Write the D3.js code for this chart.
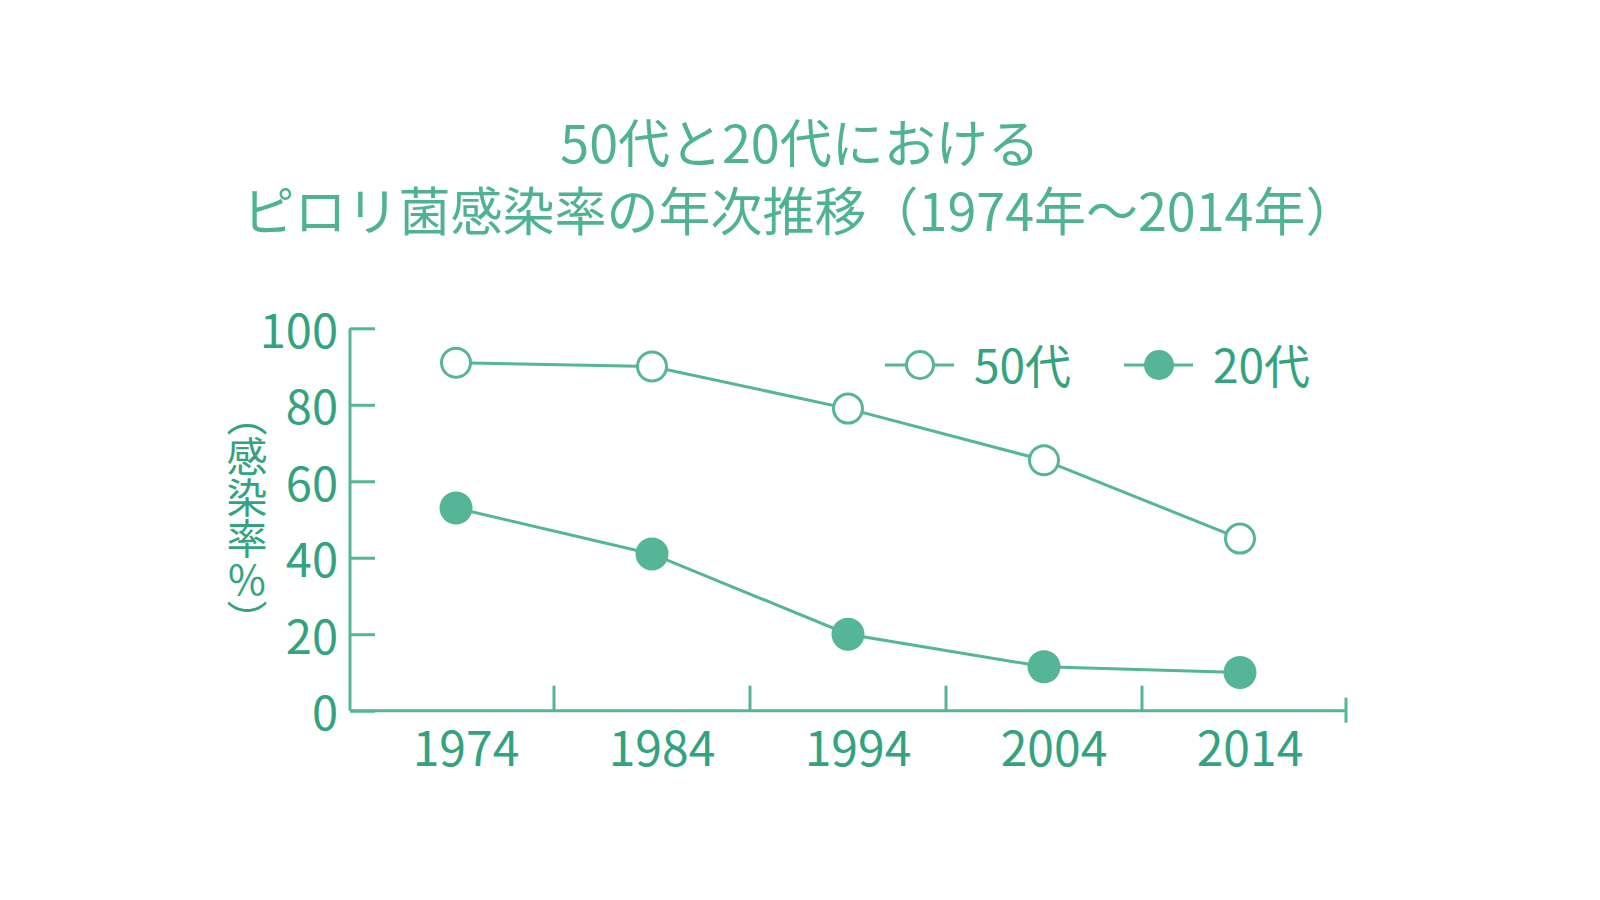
<!DOCTYPE html>
<html lang="ja">
<head>
<meta charset="utf-8">
<script src="https://cdn.jsdelivr.net/npm/d3@7"></script>
<style>
  html, body { margin: 0; padding: 0; background: #fff; }
  text { font-family: "Noto Sans CJK JP", "Noto Sans", sans-serif; }
</style>
</head>
<body>
<div id="chart"></div>
<script>
const years = ["1974", "1984", "1994", "2004", "2014"]
const age50 = [91, 90, 79, 65.5, 45]
const age20 = [53, 41, 20, 11.5, 10]
const yTicks = [0, 20, 40, 60, 80, 100]
const titleLines = ["50代と20代における", "ピロリ菌感染率の年次推移（1974年〜2014年）"]
const yLabel = "（感染率%）"
const seriesNames = ["50代", "20代"]

const lineColor = "#55b597"
const textColor = "#33a37f"

const width = 1600
const height = 900

const svg = d3.select("#chart").append("svg")
    .attr("width", width)
    .attr("height", height)

const x = d3.scaleBand()
    .domain(years)
    .range([358, 1338])
const y = d3.scaleLinear()
    .domain([0, 100])
    .range([710.7, 328.3])

// title
svg.append("g")
    .selectAll("text")
    .data(titleLines)
    .enter()
    .append("text")
    .attr("x", 800)
    .attr("y", (d, i) => 163 + i * 68)
    .attr("text-anchor", "middle")
    .attr("font-size", 52)
    .attr("fill", "#4fb393")
    .text(d => d)

// y axis
const yAxis = d3.axisLeft(y)
    .tickValues(yTicks)
    .tickSize(-25)
    .tickPadding(38)
    .tickFormat(d3.format("d"))
const gy = svg.append("g")
    .attr("transform", "translate(350,0)")
    .call(yAxis)
gy.select(".domain").remove()
gy.append("line")
    .attr("x1", 0).attr("x2", 0)
    .attr("y1", y(100)).attr("y2", y(0))
    .attr("stroke", lineColor).attr("stroke-width", 3)
gy.selectAll(".tick line")
    .attr("stroke", lineColor).attr("stroke-width", 3)
gy.selectAll(".tick text")
    .attr("fill", textColor)
    .attr("font-size", 47)
    .attr("dy", "0.4em")
    .attr("x", -12)

// x axis: ticks sit on band boundaries
const boundaries = years.slice(1).map(d => x(d))
const gx = svg.append("g")
gx.append("line")
    .attr("x1", 350).attr("x2", 1347)
    .attr("y1", y(0)).attr("y2", y(0))
    .attr("stroke", lineColor).attr("stroke-width", 3)
gx.selectAll(".xtick")
    .data(boundaries)
    .enter()
    .append("line")
    .attr("x1", d => d).attr("x2", d => d)
    .attr("y1", y(0)).attr("y2", y(0) - 25)
    .attr("stroke", lineColor).attr("stroke-width", 3)
gx.append("line")
    .attr("x1", 1346).attr("x2", 1346)
    .attr("y1", y(0) - 13).attr("y2", y(0) + 12)
    .attr("stroke", lineColor).attr("stroke-width", 3)
gx.selectAll(".xlabel")
    .data(years)
    .enter()
    .append("text")
    .attr("x", d => x(d) + x.bandwidth() / 2 + 10)
    .attr("y", 766)
    .attr("text-anchor", "middle")
    .attr("font-size", 48)
    .attr("fill", textColor)
    .text(d => d)

// y label, vertical
svg.append("text")
    .attr("transform", "translate(247,518)")
    .attr("text-anchor", "middle")
    .attr("dominant-baseline", "central")
    .style("writing-mode", "vertical-rl")
    .style("text-orientation", "upright")
    .attr("font-size", 41)
    .attr("fill", textColor)
    .text(yLabel)

// series
const cx = d => x(d) + x.bandwidth() / 2
const line = d3.line()
    .x(d => cx(d[0]))
    .y(d => y(d[1]))

function drawSeries(values, filled) {
    const pts = years.map((d, i) => [d, values[i]])
    svg.append("path")
        .datum(pts)
        .attr("d", line)
        .attr("fill", "none")
        .attr("stroke", lineColor)
        .attr("stroke-width", 3)
    svg.append("g")
        .selectAll("circle")
        .data(pts)
        .enter()
        .append("circle")
        .attr("cx", d => cx(d[0]))
        .attr("cy", d => y(d[1]))
        .attr("r", filled ? 16.5 : 14.5)
        .attr("fill", filled ? lineColor : "#fff")
        .attr("stroke", lineColor)
        .attr("stroke-width", filled ? 0 : 3)
}
drawSeries(age50, false)
drawSeries(age20, true)

// legend
const legendX = [885, 1124]
const legend = svg.append("g")
    .selectAll("g")
    .data(seriesNames)
    .enter()
    .append("g")
    .attr("transform", (d, i) => "translate(" + legendX[i] + ",365)")
legend.append("line")
    .attr("x1", 0).attr("x2", 69)
    .attr("stroke", lineColor).attr("stroke-width", 3)
legend.append("circle")
    .attr("cx", 35)
    .attr("r", (d, i) => i === 0 ? 13.5 : 15)
    .attr("fill", (d, i) => i === 0 ? "#fff" : lineColor)
    .attr("stroke", lineColor)
    .attr("stroke-width", (d, i) => i === 0 ? 3 : 0)
legend.append("text")
    .attr("x", 89)
    .attr("y", 18)
    .attr("font-size", 46)
    .attr("fill", textColor)
    .text(d => d)
</script>
</body>
</html>
